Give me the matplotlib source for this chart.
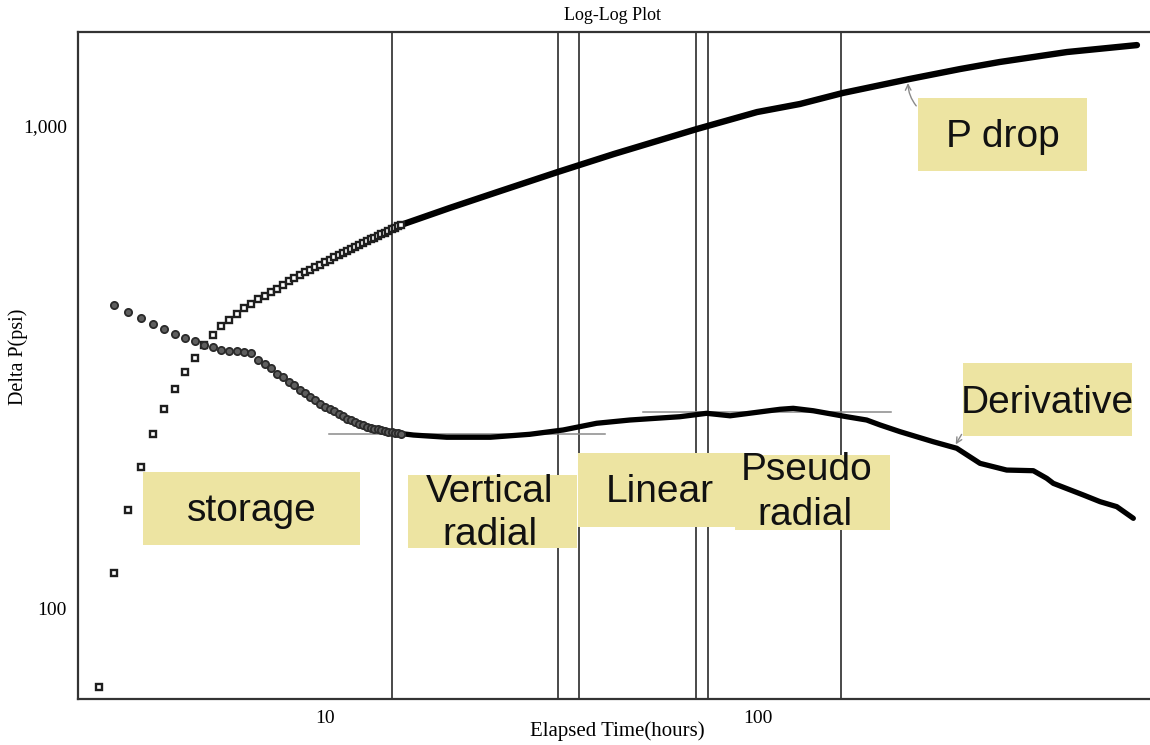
import matplotlib
matplotlib.use('Agg')
from matplotlib import pyplot as plt
from matplotlib.patches import Rectangle

# early samples, 15 min apart
t_early = [3.00, 3.25, 3.50, 3.75, 4.00, 4.25, 4.50, 4.75, 5.00, 5.25,
           5.50, 5.75, 6.00, 6.25, 6.50, 6.75, 7.00, 7.25, 7.50, 7.75,
           8.00, 8.25, 8.50, 8.75, 9.00, 9.25, 9.50, 9.75, 10.00, 10.25,
           10.50, 10.75, 11.00, 11.25, 11.50, 11.75, 12.00, 12.25, 12.50, 12.75,
           13.00, 13.25, 13.50, 13.75, 14.00, 14.25, 14.50, 14.75, 15.00]
dp_early = [68.7, 118.2, 160.0, 196.1, 229.3, 258.8, 284.7, 308.8, 330.7, 350.5,
            368.5, 384.7, 396.4, 408.3, 418.8, 428.3, 437.0, 445.0, 453.2, 460.0,
            467.9, 476.9, 483.3, 490.1, 496.8, 503.2, 509.5, 515.3, 521.8, 528.1,
            534.2, 539.6, 545.3, 551.3, 556.8, 561.9, 567.0, 571.9, 576.8, 581.8,
            586.9, 591.6, 596.4, 601.2, 606.2, 610.8, 615.5, 620.0, 623.7]
# derivative starts at the second sample
deriv_early = [424.6, 410.8, 399.1, 387.8, 378.6, 370.8, 363.8, 357.6, 350.9,
               347.6, 343.8, 341.4, 341.1, 339.8, 337.8, 326.5, 320.8, 314.7, 306.5,
               301.5, 294.6, 290.0, 283.6, 279.3, 274.0, 269.9, 265.0, 261.7, 259.3,
               256.3, 253.0, 250.5, 247.2, 245.1, 243.2, 241.4, 239.6, 237.9, 236.6,
               235.5, 234.8, 233.7, 232.8, 232.0, 231.6, 230.9, 230.5, 230.1]

# later data is too dense to show single points
t_late = [15.0, 19.4, 25.4, 34.5, 46.5, 72.3, 99.5, 125.0, 157.0, 224.0, 293.0,
          362.0, 517.0, 750.0]
dp_late = [623.7, 676, 733, 803, 875, 986, 1069, 1111, 1171, 1252, 1313,
           1358, 1424, 1472]

t_deriv = [15.0, 16.0, 19.1, 24.1, 29.7, 35.5, 42.4, 50.6, 66.0, 76.1, 86.2, 112.4,
           120.6, 134.2, 160.2, 178.2, 191.3, 212.8, 254.0, 287.7, 325.6, 375.2,
           432.3, 464.3, 480.8, 564.0, 616.5, 673.7, 735.8]
deriv_late = [230.1, 228.5, 226.1, 226.1, 229.3, 234.1, 241.7, 245.5, 249.4, 253.5,
              250.5, 258.4, 259.6, 256.6, 249.4, 245.5, 239.8, 232.2, 221.3, 214.5,
              199.6, 193.3, 192.7, 185.8, 181.4, 171.6, 166.2, 162.3, 153.5]

# flow regime boundaries (hours)
regime_t = [14.3, 34.6, 38.7, 71.9, 76.7, 155.6]
# flat derivative levels
flat_levels = [229.7, 255.5]
flat_start = [10.2, 54.2]
flat_end = [44.4, 202.8]

W, H = 1150, 745
fig = plt.figure(figsize=(W / 100, H / 100), dpi=100)
ax = fig.add_axes([78 / W, 1 - 699 / H, 1 - 78 / W, (699 - 32) / H])
ax.set_xscale('log')
ax.set_yscale('log')
ax.set_xlim(2.689, 804)
ax.set_ylim(64.75, 1567)

serif = 'Liberation Serif'

for tv in regime_t:
    ax.axvline(tv, color='#2a2a2a', lw=1.2, zorder=1)
for lev, a, b in zip(flat_levels, flat_start, flat_end):
    ax.plot([a, b], [lev, lev], color='#8a8a8a', lw=1.1, zorder=1)

ax.plot(t_late, dp_late, color='black', lw=4.6, solid_capstyle='round',
        solid_joinstyle='round', zorder=3)
ax.plot(t_deriv, deriv_late, color='black', lw=3.8, solid_capstyle='round',
        solid_joinstyle='round', zorder=3)
ax.plot(t_early, dp_early, ls='none', marker='s', ms=4.8, mfc='white',
        mec='#1e1e1e', mew=1.7, zorder=4)
ax.plot(t_early[1:], deriv_early, ls='none', marker='o', ms=5.2, mfc='#5e5e5e',
        mec='#2a2a2a', mew=1.3, zorder=4)

ax.set_xticks([10, 100])
ax.set_xticklabels(['10', '100'], fontfamily=serif, fontsize=14)
ax.set_yticks([100, 1000])
ax.set_yticklabels(['100', '1,000'], fontfamily=serif, fontsize=14)
ax.minorticks_off()
ax.tick_params(length=0, pad=8)
for side in ['left', 'bottom', 'top']:
    ax.spines[side].set_color('#333333')
    ax.spines[side].set_linewidth(1.6)
ax.spines['right'].set_visible(False)

fig.text(612 / W, 1 - 15 / H, 'Log-Log Plot', family=serif, fontsize=13,
         ha='center', va='center')
fig.text(617 / W, 1 - 731 / H, 'Elapsed Time(hours)', family=serif, fontsize=15,
         ha='center', va='center')
fig.text(18 / W, 1 - 357 / H, 'Delta P(psi)', family=serif, fontsize=14.5,
         rotation=90, ha='center', va='center')

# yellow callout boxes (pixel boxes: x0, y0, x1, y1)
box_col = '#ede4a2'
boxes = [(143, 472, 360, 545), (408, 475, 577, 548), (578, 453, 747, 527),
         (735, 455, 890, 530), (918, 98, 1087, 171), (963, 363, 1132, 436)]
for x0, y0, x1, y1 in boxes:
    fig.add_artist(Rectangle((x0 / W, 1 - y1 / H), (x1 - x0) / W, (y1 - y0) / H,
                             transform=fig.transFigure, facecolor=box_col,
                             edgecolor='none', zorder=5))

labels = [('storage', 252, 511), ('Vertical', 490, 492), ('radial', 490, 535),
          ('Linear', 660, 492), ('Pseudo', 807, 470), ('radial', 805, 515),
          ('P drop', 1003, 137), ('Derivative', 1047, 403)]
for txt, x, y in labels:
    fig.text(x / W, 1 - y / H, txt, family='Liberation Sans', fontsize=28,
             ha='center', va='center', color='#111111', zorder=6)

# arrows from callouts to the curves
ax.annotate('', xy=(222, 1244), xycoords='data',
            xytext=(918 / W, 1 - 108 / H), textcoords='figure fraction',
            arrowprops=dict(arrowstyle='->', color='#8a8a8a', lw=1.0,
                            connectionstyle='arc3,rad=-0.2'), zorder=6)
ax.annotate('', xy=(284, 216), xycoords='data',
            xytext=(963 / W, 1 - 432 / H), textcoords='figure fraction',
            arrowprops=dict(arrowstyle='->', color='#8a8a8a', lw=1.0), zorder=6)

fig.savefig('out.png', dpi=100)
